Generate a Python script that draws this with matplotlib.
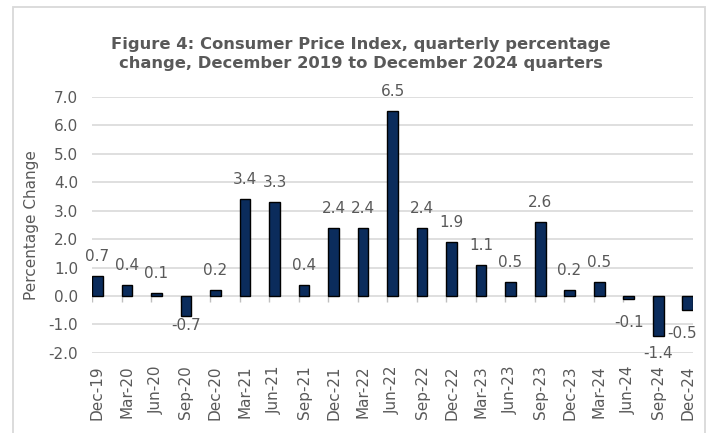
#!/usr/bin/env python
import matplotlib
matplotlib.use('Agg')
import matplotlib.pyplot as plt
import matplotlib.patches as patches

# data
quarters = ['Dec-19', 'Mar-20', 'Jun-20', 'Sep-20', 'Dec-20', 'Mar-21', 'Jun-21',
            'Sep-21', 'Dec-21', 'Mar-22', 'Jun-22', 'Sep-22', 'Dec-22', 'Mar-23',
            'Jun-23', 'Sep-23', 'Dec-23', 'Mar-24', 'Jun-24', 'Sep-24', 'Dec-24']
pct_change = [0.7, 0.4, 0.1, -0.7, 0.2, 3.4, 3.3, 0.4, 2.4, 2.4, 6.5, 2.4, 1.9,
              1.1, 0.5, 2.6, 0.2, 0.5, -0.1, -1.4, -0.5]
yticks = [-2.0, -1.0, 0.0, 1.0, 2.0, 3.0, 4.0, 5.0, 6.0, 7.0]

# label nudges (points), Excel puts a few of them in odd spots
label_nudge = {'Sep-20': (0, -7), 'Sep-24': (0, -13), 'Dec-24': (-4, -17)}


def plot_cpi():
	plotfontsize = 11
	grey = '#595959'
	barwidth = 0.37

	fig = plt.figure(figsize=(7.1, 4.33), dpi=100)
	ax = fig.add_axes([0.1296, 0.1848, 0.8465, 0.592])

	# outer frame
	fig.patches.append(patches.Rectangle((13/710., -0.05), 692/710., 1.05 - 7/433.,
		transform=fig.transFigure, fill=False, edgecolor='#d9d9d9', linewidth=1.3))

	xpos = list(range(len(quarters)))
	ax.bar(xpos, pct_change, width=barwidth, align='edge', color='#0B2C5C',
		edgecolor='black', linewidth=1.0, zorder=3)

	# little tick marks under the zero line, at category edges
	ax.plot(xpos, [0]*len(xpos), linestyle='none', marker=3, markersize=4,
		color='#bfbfbf', zorder=2)

	# value labels
	for i, v in enumerate(pct_change):
		dx, dy = label_nudge.get(quarters[i], (0, 14 if v >= 0 else -17))
		ax.annotate('%.1f' % v, (i + barwidth/2., v), xytext=(dx, dy),
			textcoords='offset points', ha='center', va='center',
			fontsize=plotfontsize, color=grey)

	# axes, grid
	ax.set_xlim(0, len(quarters) - 1 + barwidth)
	ax.set_ylim(-2.0, 7.0)
	ax.set_yticks(yticks)
	ax.set_yticklabels(['%.1f' % t for t in yticks])
	ax.set_xticks([i + barwidth/2. for i in xpos])
	ax.set_xticklabels(quarters, rotation=90)
	ax.tick_params(axis='both', length=0, labelsize=plotfontsize, labelcolor=grey)
	ax.tick_params(axis='y', pad=10)
	ax.tick_params(axis='x', pad=9)
	for s in ax.spines.values():
		s.set_visible(False)
	ax.grid(axis='y', color='#d9d9d9', linewidth=1.2, zorder=0)
	ax.set_axisbelow(True)
	ax.set_ylabel('Percentage Change', fontsize=plotfontsize, color=grey, labelpad=7)

	fig.text(361/710., 1 - 54/433.,
		'Figure 4: Consumer Price Index, quarterly percentage\nchange, December 2019 to December 2024 quarters',
		ha='center', va='center', fontsize=11.8, fontweight='bold', color=grey, linespacing=1.4)

	plt.savefig('out.png', dpi=100)


if __name__ == "__main__":
	plot_cpi()
